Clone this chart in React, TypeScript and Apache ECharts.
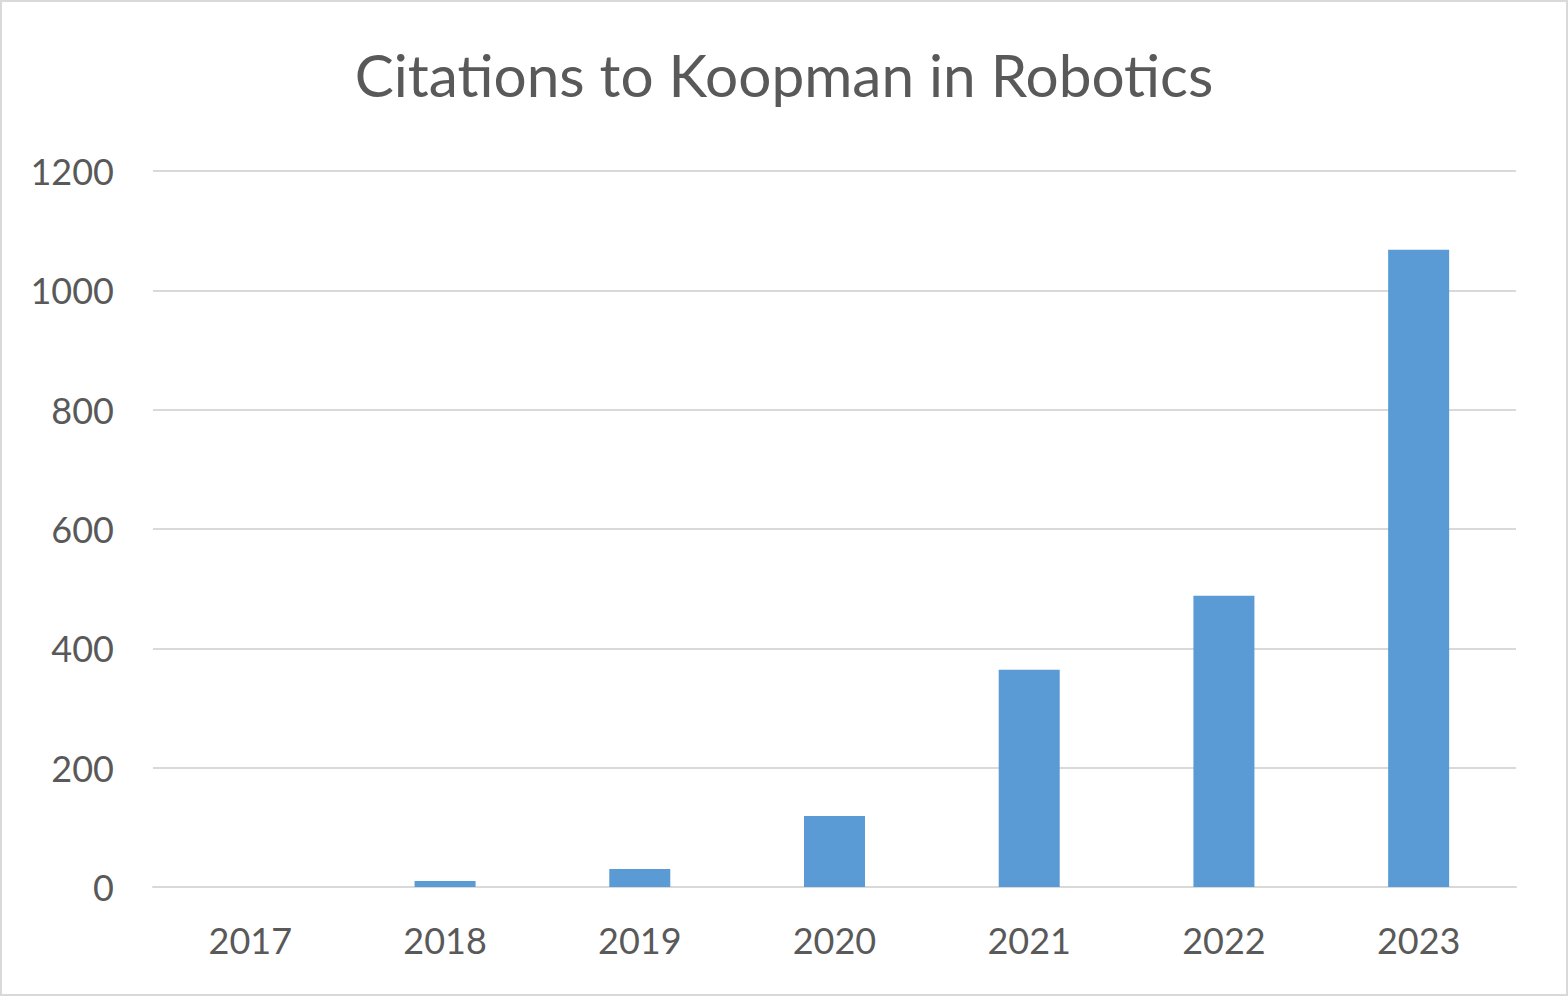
import React, { useEffect, useRef } from "react";
import * as echarts from "echarts";

const years = ["2017", "2018", "2019", "2020", "2021", "2022", "2023"];
const citations = [0, 10, 30, 119, 364, 488, 1068];
const titleText = "Citations to Koopman in Robotics";

export default function App() {
  const ref = useRef<HTMLDivElement>(null);
  useEffect(() => {
    if (!ref.current) return;
    const chart = echarts.init(ref.current, undefined, { renderer: "svg" });
    chart.setOption({
      animation: false,
      backgroundColor: "#ffffff",
      title: {
        text: titleText,
        left: "center",
        top: 37,
        textStyle: {
          fontFamily: "Lato",
          fontWeight: "normal",
          fontSize: 58.5,
          color: "#595959",
        },
      },
      grid: { left: 151, right: 50, top: 169, bottom: 107 },
      xAxis: {
        type: "category",
        data: years,
        axisLine: { show: true, lineStyle: { color: "#d9d9d9", width: 2 } },
        axisTick: { show: false },
        axisLabel: {
          fontFamily: "Lato",
          fontSize: 36,
          color: "#595959",
          margin: 35,
        },
      },
      yAxis: {
        type: "value",
        min: 0,
        max: 1200,
        interval: 200,
        axisLine: { show: false },
        axisTick: { show: false },
        splitLine: { lineStyle: { color: "#d9d9d9", width: 2 } },
        axisLabel: {
          fontFamily: "Lato",
          fontSize: 36,
          color: "#595959",
          margin: 39,
          formatter: (v: number) => String(v),
        },
      },
      series: [
        {
          type: "bar",
          data: citations,
          barWidth: 61,
          itemStyle: { color: "#5b9bd5" },
        },
      ],
    });
    return () => chart.dispose();
  }, []);
  return (
    <div
      ref={ref}
      style={{
        position: "fixed",
        left: 0,
        top: 0,
        width: 1568,
        height: 996,
        boxSizing: "border-box",
        border: "2px solid #d9d9d9",
      }}
    />
  );
}
